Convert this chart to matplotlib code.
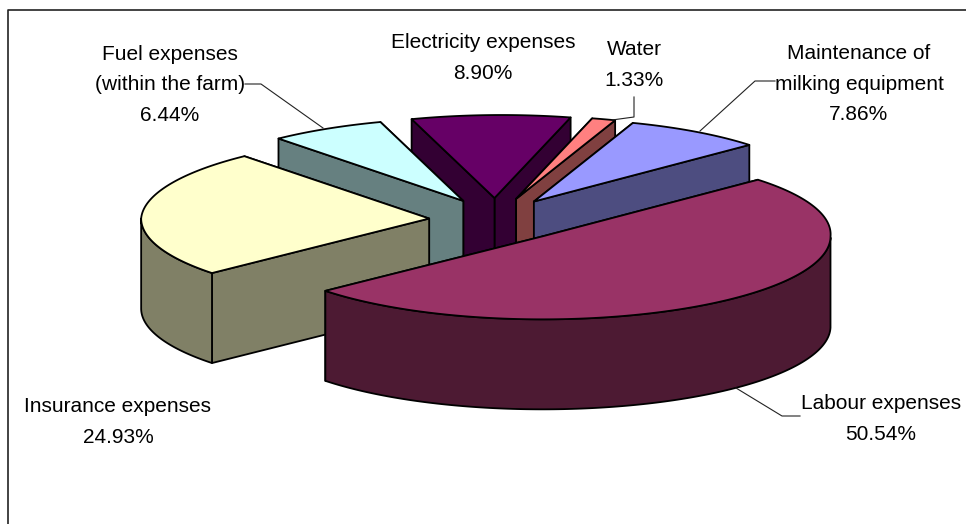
import matplotlib
matplotlib.use('Agg')
import matplotlib.pyplot as plt
import numpy as np
from matplotlib.patches import Polygon

plt.rcParams['font.family'] = ['Liberation Sans', 'DejaVu Sans']

labels = ['Labour expenses', 'Insurance expenses', 'Fuel expenses\n(within the farm)',
          'Electricity expenses', 'Water', 'Maintenance of\nmilking equipment']
shares = [50.54, 24.93, 6.44, 8.90, 1.33, 7.86]
top_cols = ['#993366', '#ffffcc', '#ccffff', '#660066', '#ff8080', '#9999ff']
side_cols = ['#4d1a33', '#808066', '#668080', '#330033', '#804040', '#4d4d80']

# pie geometry, in pixels
cx, cy = 497, 220
rx, ry = 288, 83
ex, ey = 68, 22
depth = 90
start = 43.0
lean = 0.085  # far half of the pie leans right a little
# back slices first so the front ones paint over them
draw_order = [3, 4, 5, 2, 1, 0]

fig = plt.figure(figsize=(9.66, 5.24), dpi=100)
ax = fig.add_axes([0, 0, 1, 1])
ax.set_xlim(0, 966)
ax.set_ylim(524, 0)
ax.axis('off')

# chart border
ax.plot([7.5, 7.5, 966], [524, 10, 10], color='#222222', lw=1.2)

sweeps = np.array(shares) / sum(shares) * 360
ends = start - np.cumsum(sweeps)
starts = ends + sweeps


def pts(ox, oy, t):
    t = np.radians(t)
    up = ry * np.sin(t)
    return ox + rx * np.cos(t) + lean * np.maximum(up, 0), oy - up


def poly(xs, ys, col, z):
    ax.add_patch(Polygon(np.column_stack([xs, ys]), closed=True, fc=col, ec='black',
                         lw=1.3, joinstyle='round', zorder=z))


z = 2
for i in draw_order:
    mid = np.radians((starts[i] + ends[i]) / 2)
    ox = cx + ex * np.cos(mid)
    oy = cy - ey * np.sin(mid)
    # the two cut faces, the one higher on screen first
    edges = sorted([starts[i], ends[i]], key=lambda a: pts(ox, oy, a)[1])
    for a in edges:
        px, py = pts(ox, oy, a)
        poly([ox, px, px, ox], [oy, py, py + depth, oy + depth], side_cols[i], z)
        z += 1
    # outer rim, front half only
    t = np.linspace(ends[i], starts[i], 200)
    t = t[np.sin(np.radians(t)) < 0]
    if len(t) > 1:
        xs, ys = pts(ox, oy, t)
        poly(np.r_[xs, xs[::-1]], np.r_[ys, ys[::-1] + depth], side_cols[i], z)
        z += 1
    # top
    t = np.linspace(starts[i], ends[i], 200)
    xs, ys = pts(ox, oy, t)
    poly(np.r_[ox, xs], np.r_[oy, ys], top_cols[i], z)
    z += 1

fs = 15.0
text_pos = [(881, 419), (118, 422), (170, 85), (483, 58), (634, 65), (859, 84)]
for name, val, (tx, ty) in zip(labels, shares, text_pos):
    ax.text(tx, ty, '%s\n%.2f%%' % (name, val), ha='center', va='center', fontsize=fs,
            linespacing=1.78, color='black', zorder=50)

# leader lines
leaders = [([245, 261, 323], [84, 84, 128]),
           ([634, 634, 612], [97, 117, 120]),
           ([775, 755, 700], [81, 81, 131]),
           ([800, 782, 736], [416, 416, 388])]
for lx, ly in leaders:
    ax.plot(lx, ly, color='#222222', lw=0.8, zorder=49)

fig.savefig('out.png', dpi=100)
